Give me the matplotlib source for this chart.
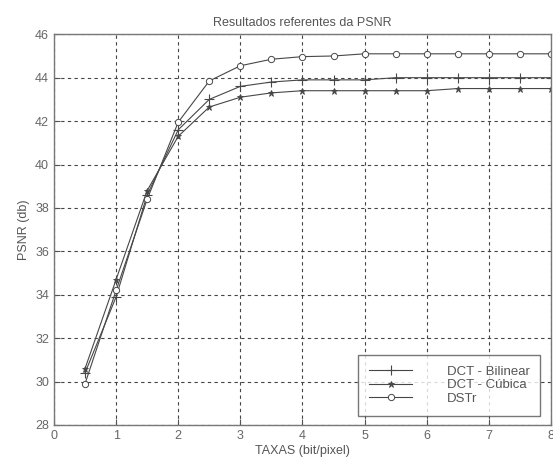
import matplotlib.pyplot as plt
import numpy as np

# taxas (bit/pixel)
taxas = [0.5, 1.0, 1.5, 2.0, 2.5, 3.0, 3.5, 4.0, 4.5, 5.0, 5.5, 6.0, 6.5, 7.0, 7.5, 8.0]

psnr_bilinear = [30.4, 33.9, 38.6, 41.6, 43.0, 43.6, 43.8, 43.9, 43.9, 43.9, 44.0, 44.0, 44.0, 44.0, 44.0, 44.0]
psnr_cubica = [30.6, 34.7, 38.8, 41.3, 42.65, 43.1, 43.3, 43.4, 43.4, 43.4, 43.4, 43.4, 43.5, 43.5, 43.5, 43.5]
psnr_dstr = [29.9, 34.2, 38.4, 41.95, 43.85, 44.55, 44.85, 44.97, 45.0, 45.1, 45.1, 45.1, 45.1, 45.1, 45.1, 45.1]

legenda = ['DCT - Bilinear', 'DCT - Cúbica', 'DSTr']
xticks = [0, 1, 2, 3, 4, 5, 6, 7, 8]
yticks = [28, 30, 32, 34, 36, 38, 40, 42, 44, 46]

plt.rcParams['font.family'] = ['Liberation Sans', 'DejaVu Sans']

fig = plt.figure(figsize=(5.53, 4.67), dpi=100)
ax = fig.add_axes([0.0976, 0.09, 0.8988, 0.8366])

cor = '#474747'
ax.plot(taxas, psnr_bilinear, color=cor, lw=0.8, marker='+', ms=7, mew=0.8, label=legenda[0])
ax.plot(taxas, psnr_cubica, color=cor, lw=0.8, marker='*', ms=4.5, mew=0.6, label=legenda[1])
ax.plot(taxas, psnr_dstr, color=cor, lw=0.8, marker='o', ms=4.5, mfc='white', mew=0.7, label=legenda[2])

ax.set_xlim(0, 8)
ax.set_ylim(28, 46)
ax.set_xticks(xticks)
ax.set_yticks(yticks)
ax.grid(True, ls=(0, (3, 3)), color='#444444', lw=0.8)
ax.tick_params(direction='in', length=4, labelsize=9, colors='#555555', labelcolor='#666666')
for s in ax.spines.values():
    s.set_color('#777777')
    s.set_linewidth(1.0)

ax.set_title('Resultados referentes da PSNR', fontsize=9, color='#555555', pad=6)
ax.set_xlabel('TAXAS (bit/pixel)', fontsize=9, color='#555555', labelpad=2)
ax.set_ylabel('PSNR (db)', fontsize=9, color='#555555', labelpad=4)

leg = ax.legend(loc='lower right', bbox_to_anchor=(0.978, 0.024), fontsize=9.5, frameon=True,
                fancybox=False, edgecolor='#555555', handlelength=3.3, handletextpad=2.6,
                labelspacing=0.1, borderpad=0.8, borderaxespad=0)
leg.get_frame().set_linewidth(1.0)
for t in leg.get_texts():
    t.set_color('#555555')

fig.savefig('out.png', dpi=100, facecolor='white')
